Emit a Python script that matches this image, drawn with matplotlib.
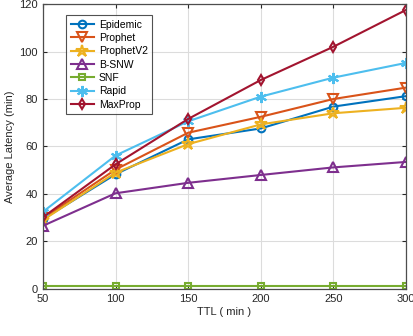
import matplotlib
matplotlib.use("Agg")
import matplotlib.pyplot as plt

plt.rcParams['font.family'] = ['Liberation Sans', 'DejaVu Sans']

ttl = [50, 100, 150, 200, 250, 300]
epidemic = [29.4, 48.3, 63.0, 67.6, 76.8, 81.2]
prophet = [29.8, 50.3, 65.8, 72.5, 80.0, 84.8]
prophetv2 = [29.0, 49.0, 61.0, 69.3, 74.0, 76.3]
bsnw = [26.6, 40.3, 44.7, 48.0, 51.2, 53.5]
snf = [1.2, 1.2, 1.2, 1.2, 1.2, 1.2]
rapid = [32.5, 56.2, 70.6, 81.0, 89.0, 95.2]
maxprop = [30.2, 52.5, 71.6, 88.0, 102.0, 117.5]

series = [
    ("Epidemic", epidemic, "#0072BD", "o", 5.5),
    ("Prophet", prophet, "#D95319", "v", 6.5),
    ("ProphetV2", prophetv2, "#EDB120", "*", 9),
    ("B-SNW", bsnw, "#7E2F8E", "^", 6.5),
    ("SNF", snf, "#77AC30", "s", 5),
    ("Rapid", rapid, "#4DBEEE", (6, 2, 0), 8),
    ("MaxProp", maxprop, "#A2142F", "d", 5.5),
]

fig = plt.figure(figsize=(4.13, 3.36), dpi=100)
ax = fig.add_axes([0.104, 0.14, 0.879, 0.848])

for name, vals, color, marker, ms in series:
    ax.plot(ttl, vals, color=color, marker=marker, markersize=ms,
            markerfacecolor='none', markeredgecolor=color,
            markeredgewidth=1.5, linewidth=1.5, label=name)

ax.set_xlim(50, 300)
ax.set_ylim(0, 120)
ax.set_xticks([50, 100, 150, 200, 250, 300])
ax.set_yticks([0, 20, 40, 60, 80, 100, 120])
ax.grid(True, color='#dcdcdc', linewidth=0.8)
ax.set_axisbelow(True)
for sp in ax.spines.values():
    sp.set_color('#4d4d4d')
    sp.set_linewidth(0.9)
ax.tick_params(direction='in', length=3, labelsize=8, colors='#262626',
               top=True, right=True, labeltop=False, labelright=False)
ax.set_xlabel("TTL ( min )", fontsize=8, color='#262626', labelpad=2)
ax.set_ylabel("Average Latency (min)", fontsize=8, color='#262626', labelpad=3)

leg = ax.legend(loc='upper left', bbox_to_anchor=(0.063, 0.962), fontsize=7.5,
                frameon=True, fancybox=False, edgecolor='#262626',
                handlelength=2.3, handletextpad=0.4, borderpad=0.45,
                labelspacing=0.32, borderaxespad=0)
leg.get_frame().set_linewidth(0.8)

fig.savefig("out.png", dpi=100)
